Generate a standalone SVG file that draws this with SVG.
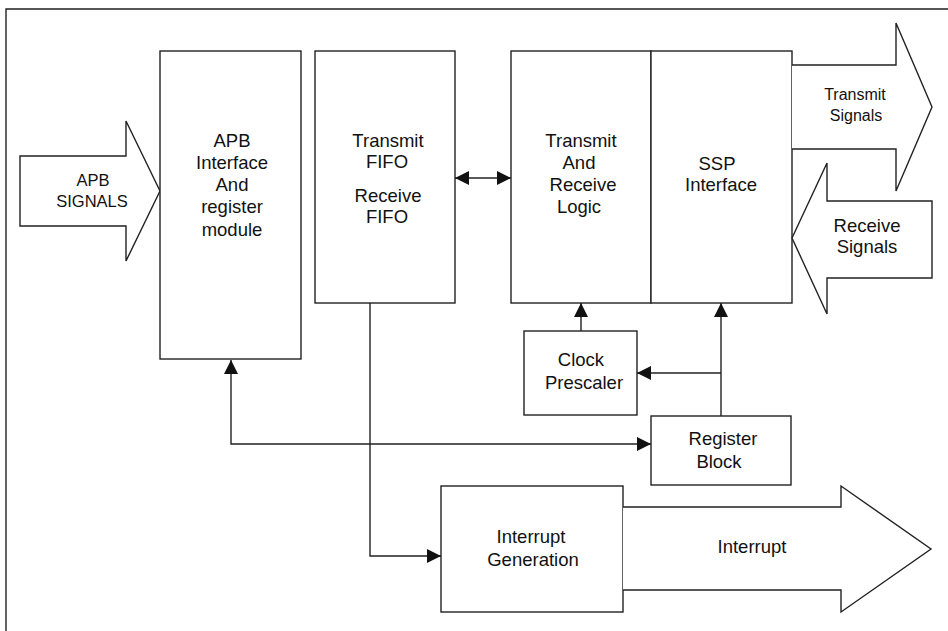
<svg xmlns="http://www.w3.org/2000/svg" width="948" height="631" viewBox="0 0 948 631">
  <style>
    .box { fill: #fff; stroke: #222; stroke-width: 1.4; }
    .big { fill: #fff; stroke: #222; stroke-width: 1.4; stroke-linejoin: miter; }
    .wire { fill: none; stroke: #222; stroke-width: 1.4; }
    text { font-family: "Liberation Sans", Arial, sans-serif; font-size: 18.5px; fill: #111; text-anchor: middle; }
    .small { font-size: 16.5px; }
    .tiny { font-size: 16px; }
  </style>
  <defs>
    <marker id="head" markerUnits="userSpaceOnUse" markerWidth="14" markerHeight="14" refX="14" refY="7" orient="auto-start-reverse">
      <path d="M0,0 L14,7 L0,14 Z" fill="#111"/>
    </marker>
  </defs>
  <rect width="948" height="631" fill="#fff"/>
  <!-- open frame: top and left edges -->
  <path d="M6,631 V9 H948" fill="none" stroke="#222" stroke-width="1.4"/>

  <g id="apb-signals">
    <path class="big" d="M20,156 H126 V121 L160,191 L126,261 V226 H20 Z"/>
    <text class="small" x="93" y="186">APB</text>
    <text class="small" x="92" y="207">SIGNALS</text>
  </g>

  <g id="apb-interface">
    <rect class="box" x="160" y="51" width="141" height="308"/>
    <text x="232" y="147">APB</text>
    <text x="232" y="169">Interface</text>
    <text x="232" y="191">And</text>
    <text x="232" y="213">register</text>
    <text x="232" y="236">module</text>
  </g>

  <g id="fifo">
    <rect class="box" x="315" y="51" width="140" height="252"/>
    <text x="388" y="147">Transmit</text>
    <text x="387" y="168">FIFO</text>
    <text x="388" y="202">Receive</text>
    <text x="387" y="223">FIFO</text>
  </g>

  <g id="txrx-logic">
    <rect class="box" x="511" y="51" width="140" height="252"/>
    <text x="581" y="147">Transmit</text>
    <text x="579" y="169">And</text>
    <text x="583" y="191">Receive</text>
    <text x="579" y="213">Logic</text>
  </g>

  <g id="ssp-interface">
    <rect class="box" x="651" y="51" width="141" height="252"/>
    <text x="717" y="170">SSP</text>
    <text x="721" y="191">Interface</text>
  </g>

  <g id="transmit-signals">
    <path class="big" d="M792,65 H896 V23 L932,107 L896,191 V149 H792"/>
    <text class="tiny" x="855" y="100">Transmit</text>
    <text class="tiny" x="856" y="121">Signals</text>
  </g>

  <g id="receive-signals">
    <path class="big" d="M792,238 L827,163 V201 H932 V278 H827 V314 Z"/>
    <text x="867" y="232">Receive</text>
    <text x="867" y="253">Signals</text>
  </g>

  <g id="clock-prescaler">
    <rect class="box" x="524" y="331" width="113" height="84"/>
    <text x="581" y="366">Clock</text>
    <text x="584" y="389">Prescaler</text>
  </g>

  <g id="register-block">
    <rect class="box" x="651" y="416" width="140" height="69"/>
    <text x="723" y="445">Register</text>
    <text x="719" y="468">Block</text>
  </g>

  <g id="interrupt-generation">
    <rect class="box" x="441" y="486" width="182" height="126"/>
    <text x="531" y="543">Interrupt</text>
    <text x="533" y="566">Generation</text>
  </g>

  <g id="interrupt-out">
    <path class="big" d="M623,507 H841 V486 L931,549 L841,612 V590 H623"/>
    <text x="752" y="553">Interrupt</text>
  </g>

  <g id="connectors">
    <path class="wire" d="M455,178 H511" marker-start="url(#head)" marker-end="url(#head)"/>
    <path class="wire" d="M231,360 V444 H651" marker-start="url(#head)" marker-end="url(#head)"/>
    <path class="wire" d="M370,303 V556 H441" marker-end="url(#head)"/>
    <path class="wire" d="M581,331 V303" marker-end="url(#head)"/>
    <path class="wire" d="M721,416 V303" marker-end="url(#head)"/>
    <path class="wire" d="M721,373 H637" marker-end="url(#head)"/>
  </g>
</svg>
